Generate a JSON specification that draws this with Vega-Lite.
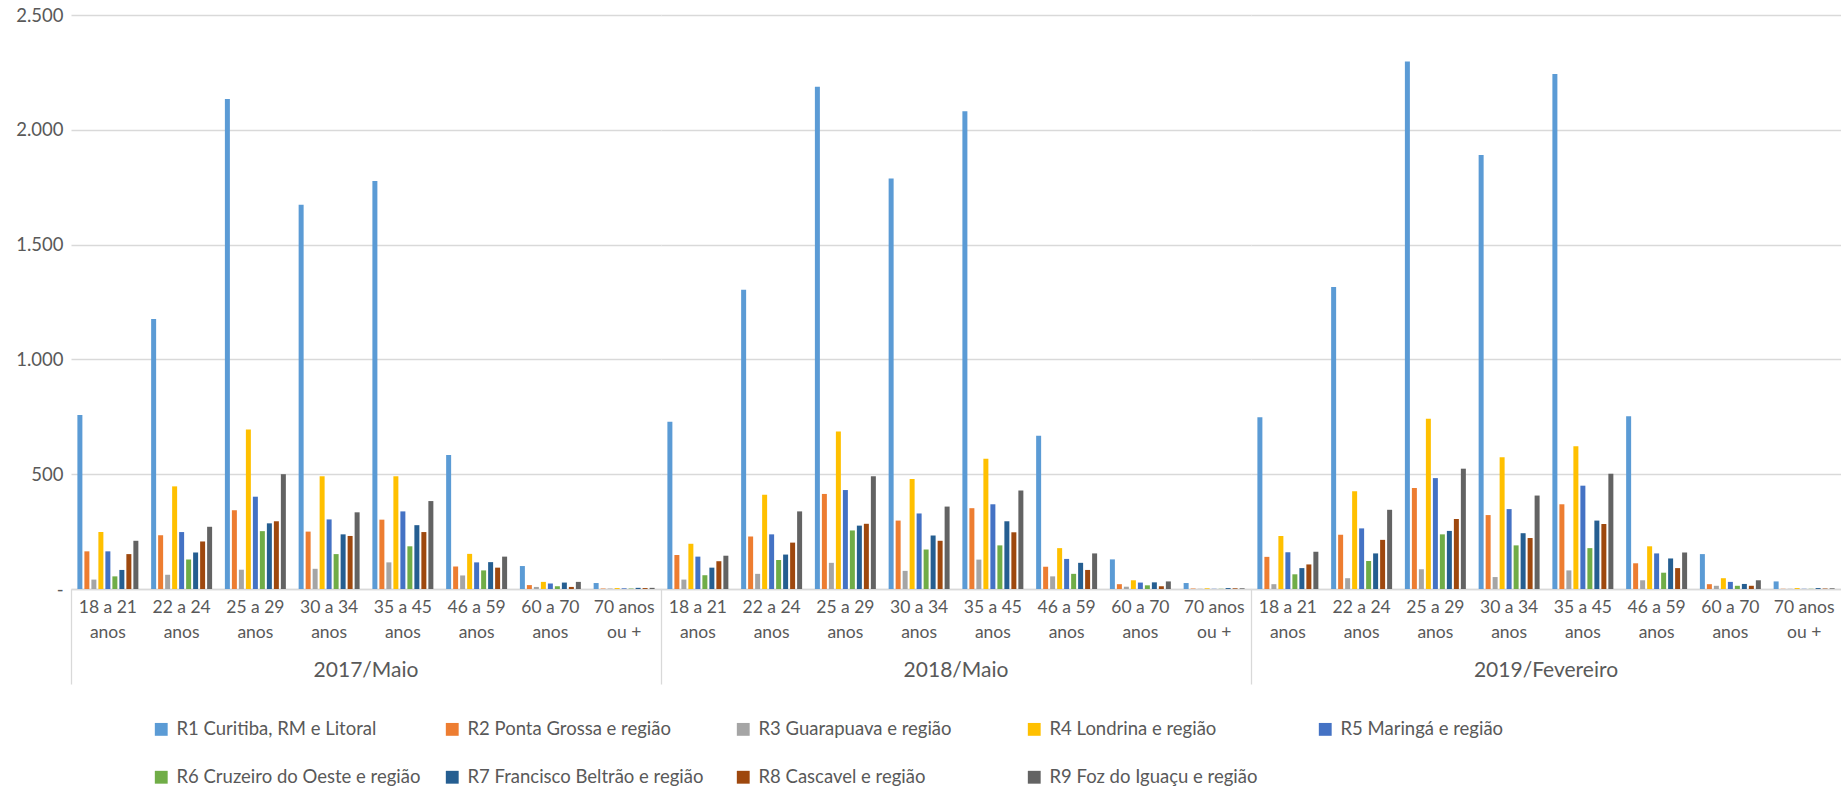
{
  "$schema": "https://vega.github.io/schema/vega-lite/v6.json",
  "padding": {"left": 15, "top": 6, "right": 0, "bottom": 0},
  "config": {"font": "Lato", "view": {"stroke": null}},
  "data": {"values": [
{"p":"2017/Maio","a":"18 a 21 anos","r":"R1 Curitiba, RM e Litoral","v":758},
{"p":"2017/Maio","a":"18 a 21 anos","r":"R2 Ponta Grossa e região","v":164},
{"p":"2017/Maio","a":"18 a 21 anos","r":"R3 Guarapuava e região","v":41},
{"p":"2017/Maio","a":"18 a 21 anos","r":"R4 Londrina e região","v":248},
{"p":"2017/Maio","a":"18 a 21 anos","r":"R5 Maringá e região","v":164},
{"p":"2017/Maio","a":"18 a 21 anos","r":"R6 Cruzeiro do Oeste e região","v":55},
{"p":"2017/Maio","a":"18 a 21 anos","r":"R7 Francisco Beltrão e região","v":83},
{"p":"2017/Maio","a":"18 a 21 anos","r":"R8 Cascavel e região","v":152},
{"p":"2017/Maio","a":"18 a 21 anos","r":"R9 Foz do Iguaçu e região","v":210},
{"p":"2017/Maio","a":"22 a 24 anos","r":"R1 Curitiba, RM e Litoral","v":1176},
{"p":"2017/Maio","a":"22 a 24 anos","r":"R2 Ponta Grossa e região","v":234},
{"p":"2017/Maio","a":"22 a 24 anos","r":"R3 Guarapuava e região","v":62},
{"p":"2017/Maio","a":"22 a 24 anos","r":"R4 Londrina e região","v":447},
{"p":"2017/Maio","a":"22 a 24 anos","r":"R5 Maringá e região","v":248},
{"p":"2017/Maio","a":"22 a 24 anos","r":"R6 Cruzeiro do Oeste e região","v":128},
{"p":"2017/Maio","a":"22 a 24 anos","r":"R7 Francisco Beltrão e região","v":159},
{"p":"2017/Maio","a":"22 a 24 anos","r":"R8 Cascavel e região","v":207},
{"p":"2017/Maio","a":"22 a 24 anos","r":"R9 Foz do Iguaçu e região","v":271},
{"p":"2017/Maio","a":"25 a 29 anos","r":"R1 Curitiba, RM e Litoral","v":2134},
{"p":"2017/Maio","a":"25 a 29 anos","r":"R2 Ponta Grossa e região","v":343},
{"p":"2017/Maio","a":"25 a 29 anos","r":"R3 Guarapuava e região","v":84},
{"p":"2017/Maio","a":"25 a 29 anos","r":"R4 Londrina e região","v":695},
{"p":"2017/Maio","a":"25 a 29 anos","r":"R5 Maringá e região","v":402},
{"p":"2017/Maio","a":"25 a 29 anos","r":"R6 Cruzeiro do Oeste e região","v":252},
{"p":"2017/Maio","a":"25 a 29 anos","r":"R7 Francisco Beltrão e região","v":286},
{"p":"2017/Maio","a":"25 a 29 anos","r":"R8 Cascavel e região","v":295},
{"p":"2017/Maio","a":"25 a 29 anos","r":"R9 Foz do Iguaçu e região","v":500},
{"p":"2017/Maio","a":"30 a 34 anos","r":"R1 Curitiba, RM e Litoral","v":1674},
{"p":"2017/Maio","a":"30 a 34 anos","r":"R2 Ponta Grossa e região","v":250},
{"p":"2017/Maio","a":"30 a 34 anos","r":"R3 Guarapuava e região","v":88},
{"p":"2017/Maio","a":"30 a 34 anos","r":"R4 Londrina e região","v":491},
{"p":"2017/Maio","a":"30 a 34 anos","r":"R5 Maringá e região","v":303},
{"p":"2017/Maio","a":"30 a 34 anos","r":"R6 Cruzeiro do Oeste e região","v":152},
{"p":"2017/Maio","a":"30 a 34 anos","r":"R7 Francisco Beltrão e região","v":238},
{"p":"2017/Maio","a":"30 a 34 anos","r":"R8 Cascavel e região","v":231},
{"p":"2017/Maio","a":"30 a 34 anos","r":"R9 Foz do Iguaçu e região","v":334},
{"p":"2017/Maio","a":"35 a 45 anos","r":"R1 Curitiba, RM e Litoral","v":1777},
{"p":"2017/Maio","a":"35 a 45 anos","r":"R2 Ponta Grossa e região","v":302},
{"p":"2017/Maio","a":"35 a 45 anos","r":"R3 Guarapuava e região","v":116},
{"p":"2017/Maio","a":"35 a 45 anos","r":"R4 Londrina e região","v":491},
{"p":"2017/Maio","a":"35 a 45 anos","r":"R5 Maringá e região","v":338},
{"p":"2017/Maio","a":"35 a 45 anos","r":"R6 Cruzeiro do Oeste e região","v":186},
{"p":"2017/Maio","a":"35 a 45 anos","r":"R7 Francisco Beltrão e região","v":278},
{"p":"2017/Maio","a":"35 a 45 anos","r":"R8 Cascavel e região","v":248},
{"p":"2017/Maio","a":"35 a 45 anos","r":"R9 Foz do Iguaçu e região","v":383},
{"p":"2017/Maio","a":"46 a 59 anos","r":"R1 Curitiba, RM e Litoral","v":584},
{"p":"2017/Maio","a":"46 a 59 anos","r":"R2 Ponta Grossa e região","v":98},
{"p":"2017/Maio","a":"46 a 59 anos","r":"R3 Guarapuava e região","v":59},
{"p":"2017/Maio","a":"46 a 59 anos","r":"R4 Londrina e região","v":153},
{"p":"2017/Maio","a":"46 a 59 anos","r":"R5 Maringá e região","v":116},
{"p":"2017/Maio","a":"46 a 59 anos","r":"R6 Cruzeiro do Oeste e região","v":81},
{"p":"2017/Maio","a":"46 a 59 anos","r":"R7 Francisco Beltrão e região","v":117},
{"p":"2017/Maio","a":"46 a 59 anos","r":"R8 Cascavel e região","v":93},
{"p":"2017/Maio","a":"46 a 59 anos","r":"R9 Foz do Iguaçu e região","v":141},
{"p":"2017/Maio","a":"60 a 70 anos","r":"R1 Curitiba, RM e Litoral","v":100},
{"p":"2017/Maio","a":"60 a 70 anos","r":"R2 Ponta Grossa e região","v":17},
{"p":"2017/Maio","a":"60 a 70 anos","r":"R3 Guarapuava e região","v":9},
{"p":"2017/Maio","a":"60 a 70 anos","r":"R4 Londrina e região","v":31},
{"p":"2017/Maio","a":"60 a 70 anos","r":"R5 Maringá e região","v":24},
{"p":"2017/Maio","a":"60 a 70 anos","r":"R6 Cruzeiro do Oeste e região","v":12},
{"p":"2017/Maio","a":"60 a 70 anos","r":"R7 Francisco Beltrão e região","v":28},
{"p":"2017/Maio","a":"60 a 70 anos","r":"R8 Cascavel e região","v":9},
{"p":"2017/Maio","a":"60 a 70 anos","r":"R9 Foz do Iguaçu e região","v":31},
{"p":"2017/Maio","a":"70 anos ou +","r":"R1 Curitiba, RM e Litoral","v":26},
{"p":"2017/Maio","a":"70 anos ou +","r":"R2 Ponta Grossa e região","v":2},
{"p":"2017/Maio","a":"70 anos ou +","r":"R3 Guarapuava e região","v":2},
{"p":"2017/Maio","a":"70 anos ou +","r":"R4 Londrina e região","v":4},
{"p":"2017/Maio","a":"70 anos ou +","r":"R5 Maringá e região","v":3},
{"p":"2017/Maio","a":"70 anos ou +","r":"R6 Cruzeiro do Oeste e região","v":2},
{"p":"2017/Maio","a":"70 anos ou +","r":"R7 Francisco Beltrão e região","v":5},
{"p":"2017/Maio","a":"70 anos ou +","r":"R8 Cascavel e região","v":4},
{"p":"2017/Maio","a":"70 anos ou +","r":"R9 Foz do Iguaçu e região","v":5},
{"p":"2018/Maio","a":"18 a 21 anos","r":"R1 Curitiba, RM e Litoral","v":728},
{"p":"2018/Maio","a":"18 a 21 anos","r":"R2 Ponta Grossa e região","v":148},
{"p":"2018/Maio","a":"18 a 21 anos","r":"R3 Guarapuava e região","v":41},
{"p":"2018/Maio","a":"18 a 21 anos","r":"R4 Londrina e região","v":197},
{"p":"2018/Maio","a":"18 a 21 anos","r":"R5 Maringá e região","v":141},
{"p":"2018/Maio","a":"18 a 21 anos","r":"R6 Cruzeiro do Oeste e região","v":60},
{"p":"2018/Maio","a":"18 a 21 anos","r":"R7 Francisco Beltrão e região","v":93},
{"p":"2018/Maio","a":"18 a 21 anos","r":"R8 Cascavel e região","v":121},
{"p":"2018/Maio","a":"18 a 21 anos","r":"R9 Foz do Iguaçu e região","v":145},
{"p":"2018/Maio","a":"22 a 24 anos","r":"R1 Curitiba, RM e Litoral","v":1303},
{"p":"2018/Maio","a":"22 a 24 anos","r":"R2 Ponta Grossa e região","v":229},
{"p":"2018/Maio","a":"22 a 24 anos","r":"R3 Guarapuava e região","v":66},
{"p":"2018/Maio","a":"22 a 24 anos","r":"R4 Londrina e região","v":410},
{"p":"2018/Maio","a":"22 a 24 anos","r":"R5 Maringá e região","v":238},
{"p":"2018/Maio","a":"22 a 24 anos","r":"R6 Cruzeiro do Oeste e região","v":126},
{"p":"2018/Maio","a":"22 a 24 anos","r":"R7 Francisco Beltrão e região","v":150},
{"p":"2018/Maio","a":"22 a 24 anos","r":"R8 Cascavel e região","v":202},
{"p":"2018/Maio","a":"22 a 24 anos","r":"R9 Foz do Iguaçu e região","v":338},
{"p":"2018/Maio","a":"25 a 29 anos","r":"R1 Curitiba, RM e Litoral","v":2188},
{"p":"2018/Maio","a":"25 a 29 anos","r":"R2 Ponta Grossa e região","v":414},
{"p":"2018/Maio","a":"25 a 29 anos","r":"R3 Guarapuava e região","v":114},
{"p":"2018/Maio","a":"25 a 29 anos","r":"R4 Londrina e região","v":686},
{"p":"2018/Maio","a":"25 a 29 anos","r":"R5 Maringá e região","v":431},
{"p":"2018/Maio","a":"25 a 29 anos","r":"R6 Cruzeiro do Oeste e região","v":255},
{"p":"2018/Maio","a":"25 a 29 anos","r":"R7 Francisco Beltrão e região","v":276},
{"p":"2018/Maio","a":"25 a 29 anos","r":"R8 Cascavel e região","v":284},
{"p":"2018/Maio","a":"25 a 29 anos","r":"R9 Foz do Iguaçu e região","v":491},
{"p":"2018/Maio","a":"30 a 34 anos","r":"R1 Curitiba, RM e Litoral","v":1788},
{"p":"2018/Maio","a":"30 a 34 anos","r":"R2 Ponta Grossa e região","v":298},
{"p":"2018/Maio","a":"30 a 34 anos","r":"R3 Guarapuava e região","v":79},
{"p":"2018/Maio","a":"30 a 34 anos","r":"R4 Londrina e região","v":479},
{"p":"2018/Maio","a":"30 a 34 anos","r":"R5 Maringá e região","v":329},
{"p":"2018/Maio","a":"30 a 34 anos","r":"R6 Cruzeiro do Oeste e região","v":172},
{"p":"2018/Maio","a":"30 a 34 anos","r":"R7 Francisco Beltrão e região","v":233},
{"p":"2018/Maio","a":"30 a 34 anos","r":"R8 Cascavel e região","v":210},
{"p":"2018/Maio","a":"30 a 34 anos","r":"R9 Foz do Iguaçu e região","v":359},
{"p":"2018/Maio","a":"35 a 45 anos","r":"R1 Curitiba, RM e Litoral","v":2081},
{"p":"2018/Maio","a":"35 a 45 anos","r":"R2 Ponta Grossa e região","v":352},
{"p":"2018/Maio","a":"35 a 45 anos","r":"R3 Guarapuava e região","v":128},
{"p":"2018/Maio","a":"35 a 45 anos","r":"R4 Londrina e região","v":567},
{"p":"2018/Maio","a":"35 a 45 anos","r":"R5 Maringá e região","v":369},
{"p":"2018/Maio","a":"35 a 45 anos","r":"R6 Cruzeiro do Oeste e região","v":190},
{"p":"2018/Maio","a":"35 a 45 anos","r":"R7 Francisco Beltrão e região","v":295},
{"p":"2018/Maio","a":"35 a 45 anos","r":"R8 Cascavel e região","v":247},
{"p":"2018/Maio","a":"35 a 45 anos","r":"R9 Foz do Iguaçu e região","v":429},
{"p":"2018/Maio","a":"46 a 59 anos","r":"R1 Curitiba, RM e Litoral","v":667},
{"p":"2018/Maio","a":"46 a 59 anos","r":"R2 Ponta Grossa e região","v":97},
{"p":"2018/Maio","a":"46 a 59 anos","r":"R3 Guarapuava e região","v":55},
{"p":"2018/Maio","a":"46 a 59 anos","r":"R4 Londrina e região","v":178},
{"p":"2018/Maio","a":"46 a 59 anos","r":"R5 Maringá e região","v":131},
{"p":"2018/Maio","a":"46 a 59 anos","r":"R6 Cruzeiro do Oeste e região","v":66},
{"p":"2018/Maio","a":"46 a 59 anos","r":"R7 Francisco Beltrão e região","v":114},
{"p":"2018/Maio","a":"46 a 59 anos","r":"R8 Cascavel e região","v":83},
{"p":"2018/Maio","a":"46 a 59 anos","r":"R9 Foz do Iguaçu e região","v":155},
{"p":"2018/Maio","a":"60 a 70 anos","r":"R1 Curitiba, RM e Litoral","v":129},
{"p":"2018/Maio","a":"60 a 70 anos","r":"R2 Ponta Grossa e região","v":21},
{"p":"2018/Maio","a":"60 a 70 anos","r":"R3 Guarapuava e região","v":10},
{"p":"2018/Maio","a":"60 a 70 anos","r":"R4 Londrina e região","v":38},
{"p":"2018/Maio","a":"60 a 70 anos","r":"R5 Maringá e região","v":28},
{"p":"2018/Maio","a":"60 a 70 anos","r":"R6 Cruzeiro do Oeste e região","v":16},
{"p":"2018/Maio","a":"60 a 70 anos","r":"R7 Francisco Beltrão e região","v":29},
{"p":"2018/Maio","a":"60 a 70 anos","r":"R8 Cascavel e região","v":12},
{"p":"2018/Maio","a":"60 a 70 anos","r":"R9 Foz do Iguaçu e região","v":33},
{"p":"2018/Maio","a":"70 anos ou +","r":"R1 Curitiba, RM e Litoral","v":26},
{"p":"2018/Maio","a":"70 anos ou +","r":"R2 Ponta Grossa e região","v":2},
{"p":"2018/Maio","a":"70 anos ou +","r":"R3 Guarapuava e região","v":1},
{"p":"2018/Maio","a":"70 anos ou +","r":"R4 Londrina e região","v":3},
{"p":"2018/Maio","a":"70 anos ou +","r":"R5 Maringá e região","v":1},
{"p":"2018/Maio","a":"70 anos ou +","r":"R6 Cruzeiro do Oeste e região","v":1},
{"p":"2018/Maio","a":"70 anos ou +","r":"R7 Francisco Beltrão e região","v":4},
{"p":"2018/Maio","a":"70 anos ou +","r":"R8 Cascavel e região","v":3},
{"p":"2018/Maio","a":"70 anos ou +","r":"R9 Foz do Iguaçu e região","v":3},
{"p":"2019/Fevereiro","a":"18 a 21 anos","r":"R1 Curitiba, RM e Litoral","v":748},
{"p":"2019/Fevereiro","a":"18 a 21 anos","r":"R2 Ponta Grossa e região","v":140},
{"p":"2019/Fevereiro","a":"18 a 21 anos","r":"R3 Guarapuava e região","v":21},
{"p":"2019/Fevereiro","a":"18 a 21 anos","r":"R4 Londrina e região","v":231},
{"p":"2019/Fevereiro","a":"18 a 21 anos","r":"R5 Maringá e região","v":160},
{"p":"2019/Fevereiro","a":"18 a 21 anos","r":"R6 Cruzeiro do Oeste e região","v":64},
{"p":"2019/Fevereiro","a":"18 a 21 anos","r":"R7 Francisco Beltrão e região","v":91},
{"p":"2019/Fevereiro","a":"18 a 21 anos","r":"R8 Cascavel e região","v":107},
{"p":"2019/Fevereiro","a":"18 a 21 anos","r":"R9 Foz do Iguaçu e região","v":162},
{"p":"2019/Fevereiro","a":"22 a 24 anos","r":"R1 Curitiba, RM e Litoral","v":1315},
{"p":"2019/Fevereiro","a":"22 a 24 anos","r":"R2 Ponta Grossa e região","v":236},
{"p":"2019/Fevereiro","a":"22 a 24 anos","r":"R3 Guarapuava e região","v":47},
{"p":"2019/Fevereiro","a":"22 a 24 anos","r":"R4 Londrina e região","v":426},
{"p":"2019/Fevereiro","a":"22 a 24 anos","r":"R5 Maringá e região","v":264},
{"p":"2019/Fevereiro","a":"22 a 24 anos","r":"R6 Cruzeiro do Oeste e região","v":122},
{"p":"2019/Fevereiro","a":"22 a 24 anos","r":"R7 Francisco Beltrão e região","v":155},
{"p":"2019/Fevereiro","a":"22 a 24 anos","r":"R8 Cascavel e região","v":214},
{"p":"2019/Fevereiro","a":"22 a 24 anos","r":"R9 Foz do Iguaçu e região","v":345},
{"p":"2019/Fevereiro","a":"25 a 29 anos","r":"R1 Curitiba, RM e Litoral","v":2298},
{"p":"2019/Fevereiro","a":"25 a 29 anos","r":"R2 Ponta Grossa e região","v":440},
{"p":"2019/Fevereiro","a":"25 a 29 anos","r":"R3 Guarapuava e região","v":86},
{"p":"2019/Fevereiro","a":"25 a 29 anos","r":"R4 Londrina e região","v":741},
{"p":"2019/Fevereiro","a":"25 a 29 anos","r":"R5 Maringá e região","v":483},
{"p":"2019/Fevereiro","a":"25 a 29 anos","r":"R6 Cruzeiro do Oeste e região","v":238},
{"p":"2019/Fevereiro","a":"25 a 29 anos","r":"R7 Francisco Beltrão e região","v":253},
{"p":"2019/Fevereiro","a":"25 a 29 anos","r":"R8 Cascavel e região","v":305},
{"p":"2019/Fevereiro","a":"25 a 29 anos","r":"R9 Foz do Iguaçu e região","v":524},
{"p":"2019/Fevereiro","a":"30 a 34 anos","r":"R1 Curitiba, RM e Litoral","v":1890},
{"p":"2019/Fevereiro","a":"30 a 34 anos","r":"R2 Ponta Grossa e região","v":322},
{"p":"2019/Fevereiro","a":"30 a 34 anos","r":"R3 Guarapuava e região","v":52},
{"p":"2019/Fevereiro","a":"30 a 34 anos","r":"R4 Londrina e região","v":574},
{"p":"2019/Fevereiro","a":"30 a 34 anos","r":"R5 Maringá e região","v":348},
{"p":"2019/Fevereiro","a":"30 a 34 anos","r":"R6 Cruzeiro do Oeste e região","v":190},
{"p":"2019/Fevereiro","a":"30 a 34 anos","r":"R7 Francisco Beltrão e região","v":243},
{"p":"2019/Fevereiro","a":"30 a 34 anos","r":"R8 Cascavel e região","v":222},
{"p":"2019/Fevereiro","a":"30 a 34 anos","r":"R9 Foz do Iguaçu e região","v":407},
{"p":"2019/Fevereiro","a":"35 a 45 anos","r":"R1 Curitiba, RM e Litoral","v":2243},
{"p":"2019/Fevereiro","a":"35 a 45 anos","r":"R2 Ponta Grossa e região","v":369},
{"p":"2019/Fevereiro","a":"35 a 45 anos","r":"R3 Guarapuava e região","v":81},
{"p":"2019/Fevereiro","a":"35 a 45 anos","r":"R4 Londrina e região","v":622},
{"p":"2019/Fevereiro","a":"35 a 45 anos","r":"R5 Maringá e região","v":450},
{"p":"2019/Fevereiro","a":"35 a 45 anos","r":"R6 Cruzeiro do Oeste e região","v":178},
{"p":"2019/Fevereiro","a":"35 a 45 anos","r":"R7 Francisco Beltrão e região","v":298},
{"p":"2019/Fevereiro","a":"35 a 45 anos","r":"R8 Cascavel e região","v":283},
{"p":"2019/Fevereiro","a":"35 a 45 anos","r":"R9 Foz do Iguaçu e região","v":502},
{"p":"2019/Fevereiro","a":"46 a 59 anos","r":"R1 Curitiba, RM e Litoral","v":752},
{"p":"2019/Fevereiro","a":"46 a 59 anos","r":"R2 Ponta Grossa e região","v":112},
{"p":"2019/Fevereiro","a":"46 a 59 anos","r":"R3 Guarapuava e região","v":38},
{"p":"2019/Fevereiro","a":"46 a 59 anos","r":"R4 Londrina e região","v":186},
{"p":"2019/Fevereiro","a":"46 a 59 anos","r":"R5 Maringá e região","v":155},
{"p":"2019/Fevereiro","a":"46 a 59 anos","r":"R6 Cruzeiro do Oeste e região","v":71},
{"p":"2019/Fevereiro","a":"46 a 59 anos","r":"R7 Francisco Beltrão e região","v":133},
{"p":"2019/Fevereiro","a":"46 a 59 anos","r":"R8 Cascavel e região","v":91},
{"p":"2019/Fevereiro","a":"46 a 59 anos","r":"R9 Foz do Iguaçu e região","v":159},
{"p":"2019/Fevereiro","a":"60 a 70 anos","r":"R1 Curitiba, RM e Litoral","v":152},
{"p":"2019/Fevereiro","a":"60 a 70 anos","r":"R2 Ponta Grossa e região","v":21},
{"p":"2019/Fevereiro","a":"60 a 70 anos","r":"R3 Guarapuava e região","v":14},
{"p":"2019/Fevereiro","a":"60 a 70 anos","r":"R4 Londrina e região","v":47},
{"p":"2019/Fevereiro","a":"60 a 70 anos","r":"R5 Maringá e região","v":31},
{"p":"2019/Fevereiro","a":"60 a 70 anos","r":"R6 Cruzeiro do Oeste e região","v":14},
{"p":"2019/Fevereiro","a":"60 a 70 anos","r":"R7 Francisco Beltrão e região","v":22},
{"p":"2019/Fevereiro","a":"60 a 70 anos","r":"R8 Cascavel e região","v":14},
{"p":"2019/Fevereiro","a":"60 a 70 anos","r":"R9 Foz do Iguaçu e região","v":38},
{"p":"2019/Fevereiro","a":"70 anos ou +","r":"R1 Curitiba, RM e Litoral","v":33},
{"p":"2019/Fevereiro","a":"70 anos ou +","r":"R2 Ponta Grossa e região","v":1},
{"p":"2019/Fevereiro","a":"70 anos ou +","r":"R3 Guarapuava e região","v":1},
{"p":"2019/Fevereiro","a":"70 anos ou +","r":"R4 Londrina e região","v":4},
{"p":"2019/Fevereiro","a":"70 anos ou +","r":"R5 Maringá e região","v":1},
{"p":"2019/Fevereiro","a":"70 anos ou +","r":"R6 Cruzeiro do Oeste e região","v":1},
{"p":"2019/Fevereiro","a":"70 anos ou +","r":"R7 Francisco Beltrão e região","v":4},
{"p":"2019/Fevereiro","a":"70 anos ou +","r":"R8 Cascavel e região","v":2},
{"p":"2019/Fevereiro","a":"70 anos ou +","r":"R9 Foz do Iguaçu e região","v":3}
  ]},
  "facet": {
    "column": {
      "field": "p", "type": "nominal",
      "sort": ["2017/Maio", "2018/Maio", "2019/Fevereiro"],
      "header": {"orient": "bottom", "title": null, "labelFont": "Lato", "labelFontSize": 21, "labelColor": "#595959", "labelPadding": -25}
    }
  },
  "spacing": 0,
  "spec": {
    "width": 590,
    "height": 574,
    "mark": {"type": "bar"},
    "encoding": {
      "x": {
        "field": "a", "type": "nominal",
        "sort": ["18 a 21 anos", "22 a 24 anos", "25 a 29 anos", "30 a 34 anos", "35 a 45 anos", "46 a 59 anos", "60 a 70 anos", "70 anos ou +"],
        "scale": {"paddingInner": 0, "paddingOuter": 0},
        "axis": {
          "title": null, "labelAngle": 0,
          "labelExpr": "datum.value === '70 anos ou +' ? ['70 anos', 'ou +'] : [replace(datum.value, ' anos', ''), 'anos']",
          "labelFont": "Lato", "labelFontSize": 17.5, "labelColor": "#595959", "labelLineHeight": 25,
          "domain": true, "domainColor": "#d9d9d9", "domainWidth": 1.3,
          "ticks": true, "bandPosition": 0, "tickSize": 95, "tickWidth": 1.3, "tickColor": "#d9d9d9",
          "tickOpacity": {"condition": {"test": "datum.value === '18 a 21 anos'", "value": 1}, "value": 0},
          "labelPadding": -86
        }
      },
      "xOffset": {
        "field": "r", "type": "nominal",
        "sort": ["R1 Curitiba, RM e Litoral", "R2 Ponta Grossa e região", "R3 Guarapuava e região", "R4 Londrina e região", "R5 Maringá e região", "R6 Cruzeiro do Oeste e região", "R7 Francisco Beltrão e região", "R8 Cascavel e região", "R9 Foz do Iguaçu e região"],
        "scale": {"paddingInner": 0.286, "paddingOuter": 0.913}
      },
      "y": {
        "field": "v", "type": "quantitative",
        "scale": {"domain": [0, 2500], "nice": false},
        "axis": {
          "title": null, "values": [0, 500, 1000, 1500, 2000, 2500], "format": ",d",
          "labelExpr": "datum.value === 0 ? '-' : replace(datum.label, ',', '.')",
          "ticks": false, "domain": false, "grid": true, "gridColor": "#d9d9d9", "gridWidth": 1.3,
          "labelFont": "Lato", "labelFontSize": 18.5, "labelColor": "#595959", "labelPadding": 8
        }
      },
      "color": {
        "field": "r", "type": "nominal",
        "sort": ["R1 Curitiba, RM e Litoral", "R2 Ponta Grossa e região", "R3 Guarapuava e região", "R4 Londrina e região", "R5 Maringá e região", "R6 Cruzeiro do Oeste e região", "R7 Francisco Beltrão e região", "R8 Cascavel e região", "R9 Foz do Iguaçu e região"],
        "scale": {"range": ["#5B9BD5", "#ED7D31", "#A5A5A5", "#FFC000", "#4472C4", "#70AD47", "#255E91", "#9E480E", "#636363"]},
        "legend": {
          "title": null, "orient": "none", "legendX": 81, "legendY": 705,
          "direction": "horizontal", "columns": 5, "gridAlign": "all", "columnPadding": 22, "rowPadding": 29,
          "symbolType": "square", "symbolSize": 165, "symbolStrokeWidth": 0, "labelOffset": 6,
          "labelFont": "Lato", "labelFontSize": 18.5, "labelColor": "#595959", "labelLimit": 400
        }
      }
    }
  }
}
